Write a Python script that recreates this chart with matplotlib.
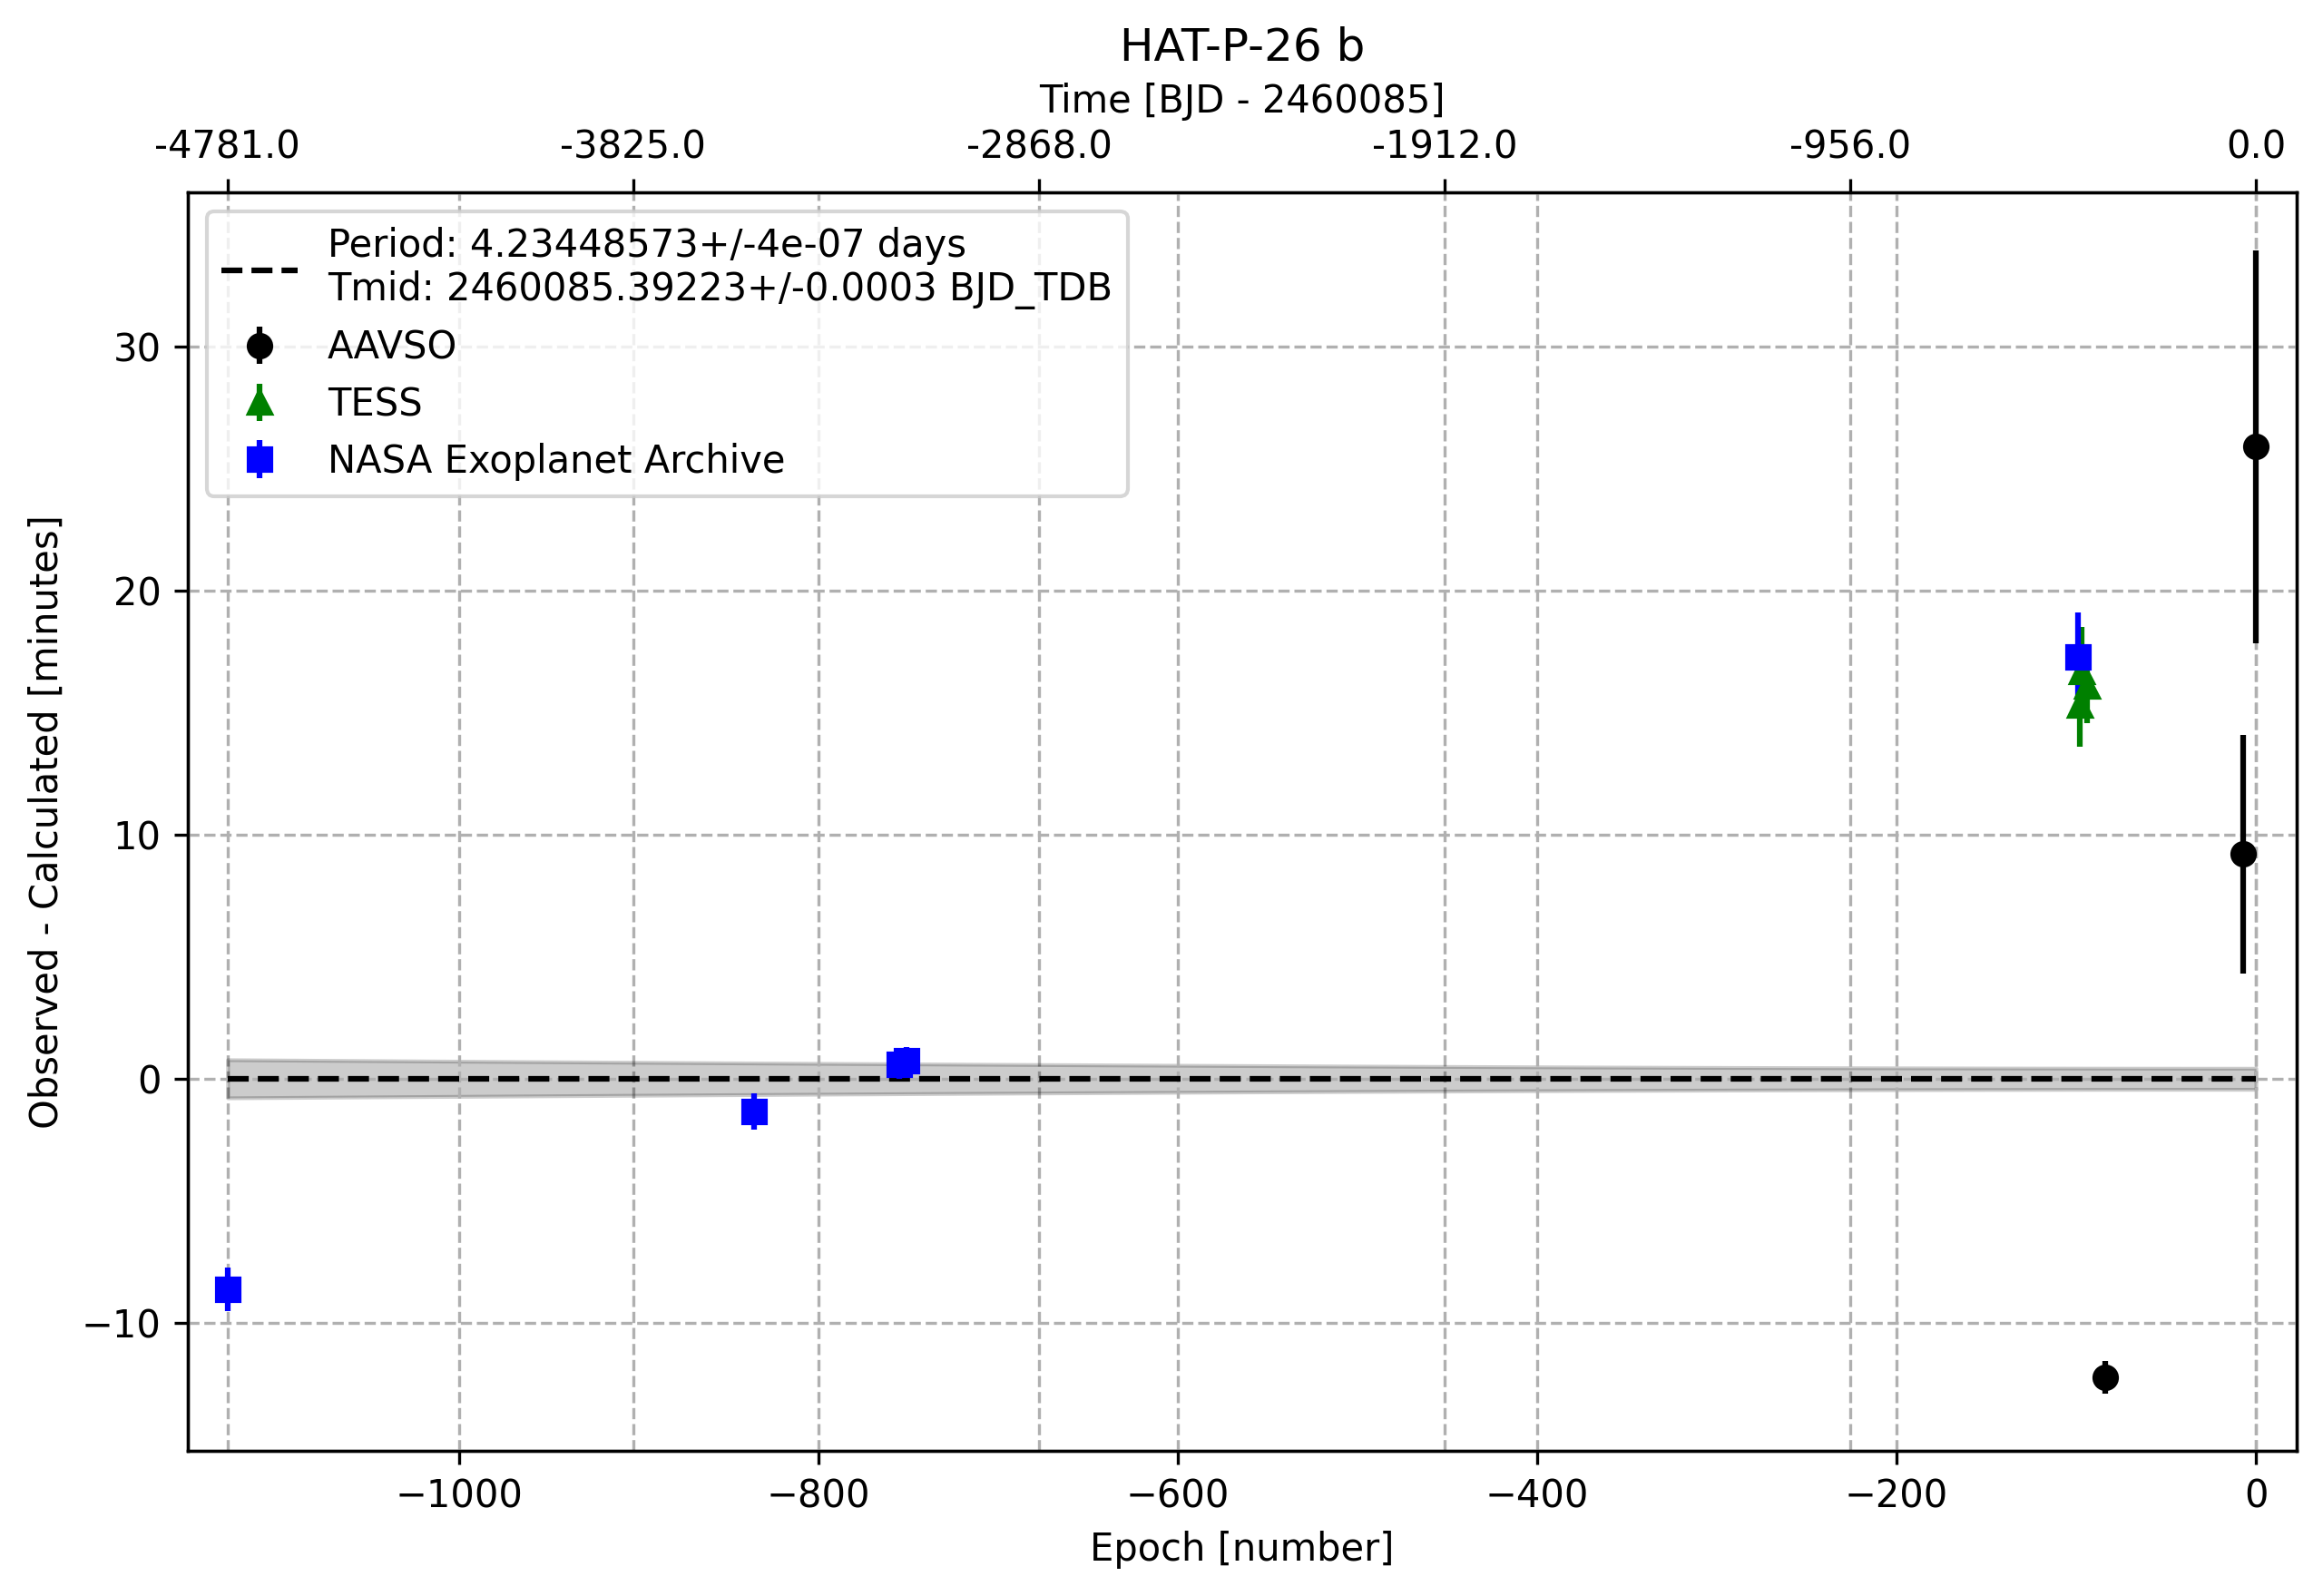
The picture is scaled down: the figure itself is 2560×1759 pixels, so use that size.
import numpy as np
import matplotlib
matplotlib.use("Agg")
import matplotlib.pyplot as plt

# ---- data ----
period = 4.23448573
period_err = 4e-07
tmid = 2460085.39223
tmid_err = 0.0003

aavso_epoch = [-84, -7, 0]
aavso_oc = [-12.23, 9.2, 25.9]
aavso_err = [0.68, 4.9, 8.05]

tess_epoch = [-98, -97, -94]
tess_oc = [15.3, 16.7, 16.1]
tess_err = [1.7, 1.8, 1.55]

nasa_epoch = [-1129, -836, -755, -751, -99]
nasa_oc = [-8.62, -1.34, 0.6, 0.75, 17.3]
nasa_err = [0.9, 0.76, 0.6, 0.55, 1.8]

fit_epoch = [-1129, 0]
top_tick_labels = [-4781.0, -3825.0, -2868.0, -1912.0, -956.0, 0.0]

# ---- figure ----
fig = plt.figure(figsize=(2560 / 300, 1759 / 300), dpi=300)
ax = fig.add_axes([206.7 / 2560, 1 - 1599 / 1759, (2531 - 206.7) / 2560, (1599 - 212.3) / 1759])

fe = np.linspace(fit_epoch[0], fit_epoch[1], 200)
sig = np.sqrt((fe * period_err) ** 2 + tmid_err ** 2) * 24 * 60
ax.fill_between(fe, -sig, sig, color='black', alpha=0.2)
ax.plot(fit_epoch, [0, 0], 'k--',
        label=f"Period: {period}+/-{period_err} days\nTmid: {tmid}+/-{tmid_err} BJD_TDB")

ax.errorbar(aavso_epoch, aavso_oc, yerr=aavso_err, fmt='ko', label='AAVSO')
ax.errorbar(tess_epoch, tess_oc, yerr=tess_err, fmt='g^', label='TESS')
ax.errorbar(nasa_epoch, nasa_oc, yerr=nasa_err, fmt='bs', label='NASA Exoplanet Archive')

ax.set_xlim(-1151.3, 22.7)
ax.set_ylim(-15.24, 36.3)
ax.set_xlabel('Epoch [number]')
ax.set_ylabel('Observed - Calculated [minutes]')
ax.grid(True, ls='--')
ax.legend(loc='upper left')

ax2 = ax.twiny()
ax2.set_xlim(ax.get_xlim())
ax2.set_xticks([t / period for t in top_tick_labels])
ax2.set_xticklabels([f"{t:.1f}".replace('\u2212', '-') for t in top_tick_labels])
ax2.set_xlabel('Time [BJD - 2460085]')
ax2.grid(True, ls='--', axis='x')
ax.set_zorder(ax2.get_zorder() + 1)
ax.patch.set_visible(False)
ax2.patch.set_visible(True)
ax2.patch.set_facecolor('white')

ax.set_title('HAT-P-26 b')

fig.savefig('out.png', dpi=300)
